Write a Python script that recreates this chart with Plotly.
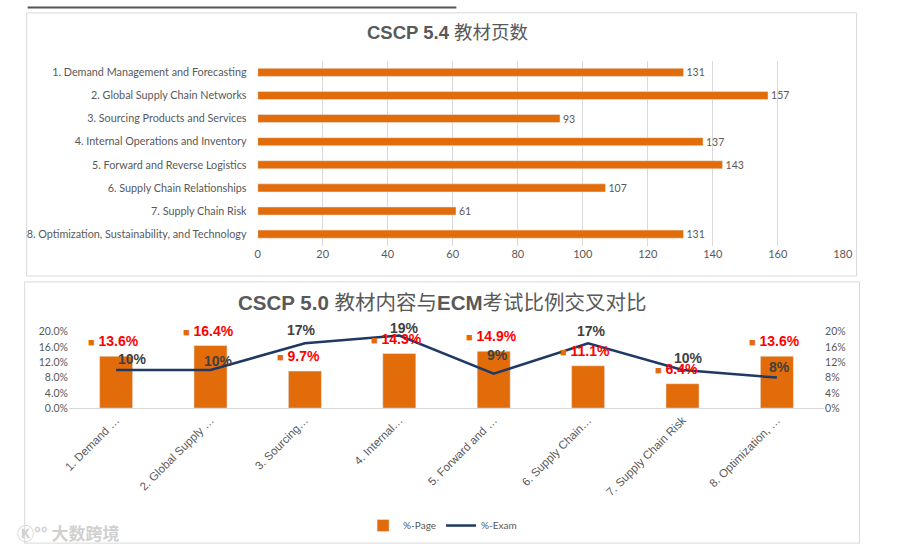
import plotly.graph_objects as go

# ----------------------------------------------------------------------------
# DATA
# top chart : pages per module (CSCP 5.4)
modules = ["1. Demand Management and Forecasting",
           "2. Global Supply Chain Networks",
           "3. Sourcing Products and Services",
           "4. Internal Operations and Inventory",
           "5. Forward and Reverse Logistics",
           "6. Supply Chain Relationships",
           "7. Supply Chain Risk",
           "8. Optimization, Sustainability, and Technology"]
pages = [131, 157, 93, 137, 143, 107, 61, 131]

# bottom chart : % page vs % exam (CSCP 5.0)
short_names = ["1. Demand …", "2. Global Supply …", "3. Sourcing…", "4. Internal…",
               "5. Forward and …", "6. Supply Chain…", "7. Supply Chain Risk",
               "8. Optimization, …"]
pct_page = [0.136, 0.164, 0.097, 0.143, 0.149, 0.111, 0.064, 0.136]
pct_exam = [0.10, 0.10, 0.17, 0.19, 0.09, 0.17, 0.10, 0.08]

# ----------------------------------------------------------------------------
# STYLE
W, H = 900, 555
orange = "#E36C0A"
navy = "#1F3864"
grey = "#595959"
light = "#D9D9D9"

# label shifts (px) for the exam labels, as placed in the original
exam_dx = [16, 8, -3, 5, 4, 3, 6, 3]
exam_dy = [11, 9, 13, 8, 19, 12, 12, 11]


def px_x(px):
    return px / W


def px_y(py):
    return 1 - py / H


fig = go.Figure()

# top chart : horizontal bars
fig.add_trace(go.Bar(y=modules, x=pages, orientation="h", marker_color=orange,
                     text=pages, textposition="outside", cliponaxis=False, constraintext="none",
                     textfont=dict(size=10.5, color=grey, family="Lato"),
                     xaxis="x", yaxis="y", showlegend=False, hoverinfo="x+y"))

# bottom chart : bars + line
fig.add_trace(go.Bar(x=short_names, y=pct_page, name="%-Page", marker_color=orange,
                     xaxis="x2", yaxis="y2"))
fig.add_trace(go.Scatter(x=short_names, y=pct_exam, name="%-Exam", mode="lines",
                         line=dict(color=navy, width=2.5), xaxis="x2", yaxis="y3"))

# data labels of the bottom chart
annotations = []
for i, name in enumerate(short_names):
    annotations.append(dict(
        x=name, y=pct_page[i], xref="x2", yref="y2",
        text="<span style='color:%s;font-size:11px'>■</span> %.1f%%" % (orange, pct_page[i] * 100),
        showarrow=False, xanchor="left", yanchor="middle", xshift=-30, yshift=15,
        font=dict(size=14, color="#FF0000", family="Liberation Sans", weight="bold")))
    annotations.append(dict(
        x=name, y=pct_exam[i], xref="x2", yref="y3",
        text="%d%%" % round(pct_exam[i] * 100),
        showarrow=False, xanchor="center", yanchor="middle",
        xshift=exam_dx[i], yshift=exam_dy[i],
        font=dict(size=14, color="#404040", family="Liberation Sans", weight="bold")))

# titles
annotations.append(dict(x=px_x(450), y=px_y(27), xref="paper", yref="paper",
                        xanchor="center", yanchor="middle",
                        text="<b>CSCP 5.4</b> 教材页数", showarrow=False,
                        font=dict(size=18.5, color=grey, family="Liberation Sans, Noto Sans CJK SC")))
annotations.append(dict(x=px_x(445), y=px_y(303), xref="paper", yref="paper",
                        xanchor="center", yanchor="middle",
                        text="<b>CSCP 5.0</b> 教材内容与<b>ECM</b>考试比例交叉对比", showarrow=False,
                        font=dict(size=20.5, color=grey, family="Liberation Sans, Noto Sans CJK SC")))
# watermark
annotations.append(dict(x=px_x(10), y=px_y(538), xref="paper", yref="paper",
                        xanchor="left", yanchor="middle",
                        text="<b>Ⓚ°° 大数跨境</b>", showarrow=False,
                        font=dict(size=17, color="#D0D0D0", family="Noto Sans CJK SC")))

# frames of both charts + dark line on top
shapes = [
    dict(type="rect", xref="paper", yref="paper", x0=px_x(22), x1=px_x(866),
         y0=px_y(276), y1=px_y(7), line=dict(color=light, width=1)),
    dict(type="rect", xref="paper", yref="paper", x0=px_x(20), x1=px_x(869),
         y0=px_y(549), y1=px_y(282), line=dict(color=light, width=1)),
    dict(type="line", xref="paper", yref="paper", x0=px_x(23), x1=px_x(459),
         y0=px_y(1.5), y1=px_y(1.5), line=dict(color="#555555", width=2)),
]

fig.update_layout(
    width=W, height=H, margin=dict(l=0, r=0, t=0, b=0),
    paper_bgcolor="white", plot_bgcolor="white",
    bargap=0.65,
    font=dict(family="Lato", color=grey, size=10),
    # top chart
    xaxis=dict(domain=[px_x(257), px_x(852)], range=[0, 180], dtick=20, anchor="y",
               showgrid=True, gridcolor=light, zeroline=False, showline=False,
               tickfont=dict(size=11, color=grey, family="Lato")),
    yaxis=dict(domain=[px_y(245), px_y(56)], anchor="x", autorange="reversed",
               showgrid=False, ticks="outside", ticklen=8, tickcolor="rgba(0,0,0,0)",
               tickfont=dict(size=10.8, color=grey, family="Lato")),
    # bottom chart
    xaxis2=dict(domain=[px_x(65), px_x(833)], anchor="y2", type="category", tickangle=-45,
                showline=True, linecolor=light, showgrid=False,
                tickfont=dict(size=11.5, color=grey, family="Liberation Sans")),
    yaxis2=dict(domain=[px_y(411), px_y(333)], anchor="x2", range=[0, 0.2], dtick=0.04,
                tickformat=".1%", showgrid=False, zeroline=False,
                tickfont=dict(size=10.5, color=grey, family="Lato")),
    yaxis3=dict(overlaying="y2", side="right", anchor="x2", range=[0, 0.2], dtick=0.04,
                tickformat=".0%", showgrid=False, zeroline=False,
                tickfont=dict(size=10.5, color=grey, family="Lato")),
    legend=dict(orientation="h", x=px_x(445), xanchor="center", y=px_y(531), yanchor="middle",
                font=dict(size=10, color=grey, family="Lato"), itemwidth=30),
    annotations=annotations,
    shapes=shapes,
)

# remove the page margin so the figure sits at the top-left corner
page_css = ("document.documentElement.style.margin = '0';"
            "document.documentElement.style.overflow = 'hidden';"
            "document.body.style.margin = '0';"
            "document.body.style.padding = '0';"
            "document.body.style.overflow = 'hidden';")
fig.write_html("out.html", post_script=page_css, config={"displayModeBar": False})
